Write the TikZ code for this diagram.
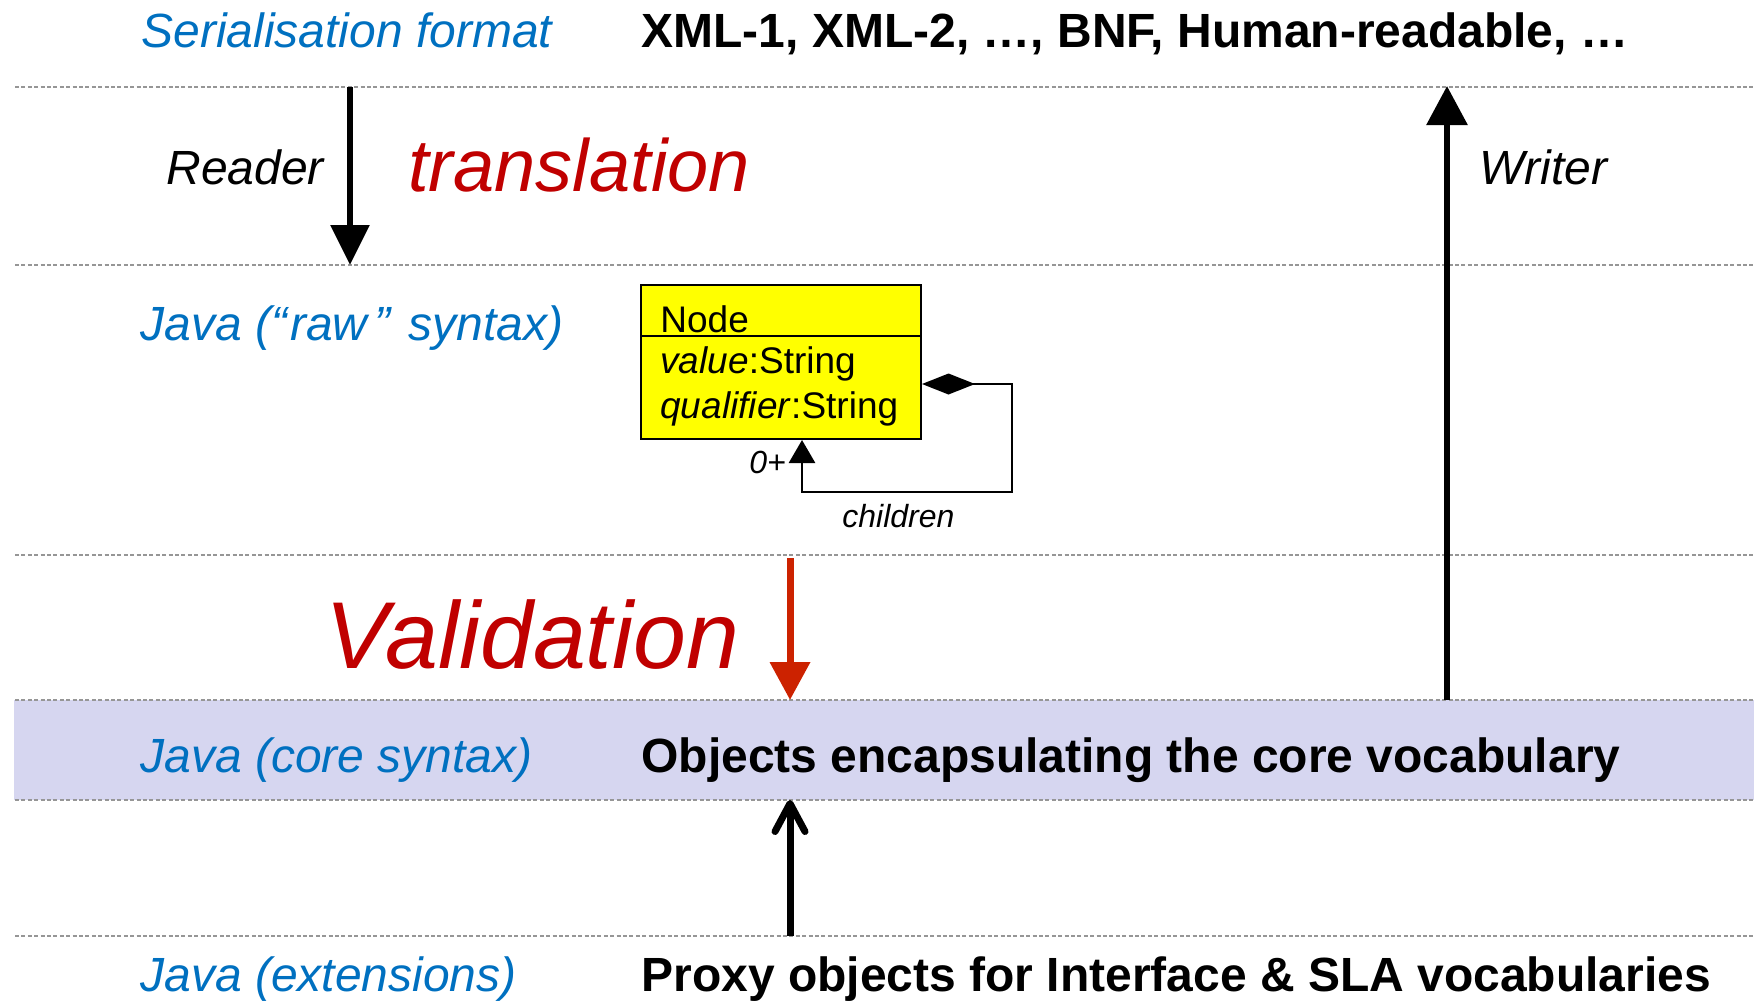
\documentclass[tikz,border=0pt]{standalone}
\usepackage{fontspec}
\setmainfont{Liberation Sans}
\usetikzlibrary{arrows.meta}
\definecolor{layerblue}{RGB}{0,112,192}
\definecolor{darkred}{RGB}{192,0,0}
\definecolor{arrowred}{RGB}{204,34,0}
\definecolor{coreband}{RGB}{214,214,240}
\definecolor{umlyellow}{RGB}{255,255,0}
\definecolor{sepgray}{RGB}{150,150,150}
\begin{document}
\begin{tikzpicture}[x=0.5pt,y=-0.5pt,
  layer/.style={anchor=base west, inner sep=0pt, text=layerblue,
    font=\fontsize{24}{28}\selectfont\itshape},
  content/.style={anchor=base west, inner sep=0pt,
    font=\fontsize{24}{28}\selectfont\bfseries},
  role/.style={anchor=base west, inner sep=0pt,
    font=\fontsize{24}{28}\selectfont\itshape},
  phase/.style={anchor=base west, inner sep=0pt, text=darkred},
  attr/.style={anchor=base west, inner sep=0pt,
    font=\fontsize{18.5}{22}\selectfont},
  small/.style={anchor=base west, inner sep=0pt,
    font=\fontsize{16}{19}\selectfont\itshape},
  sepline/.style={draw=sepgray, line width=0.7pt, dash pattern=on 2pt off 1.2pt},
  flow/.style={line width=3pt},
]
\useasboundingbox (0,0) rectangle (1754,1002);

% core-syntax band
\fill[coreband] (14,700) rectangle (1754,800);

% layer separators
\foreach \yy in {87,265,555,700,800,936}
  \draw[sepline] (15,\yy) -- (1754,\yy);

% layer names and contents
\node[layer]   (serial)  at (141,47)  {Serialisation format};
\node[content] (formats) at (641,47)  {XML-1, XML-2, …, BNF, Human-readable, …};
\node[layer]   (raw)     at (140,340) {Java (“\kern1.5pt raw\kern3.5pt”\kern2.5pt\ syntax)};
\node[layer]   (core)    at (140,772) {Java (core syntax)};
\node[content] (coreobj) at (641,772) {Objects encapsulating the core vocabulary};
\node[layer]   (ext)     at (140,991) {Java (extensions)};
\node[content] (proxy)   at (641,991) {Proxy objects for Interface \& SLA vocabularies};

% phase labels
\node[role] (reader) at (166,184)  {Reader};
\node[role] (writer) at (1479,184) {Writer};
\node[phase, font=\fontsize{37}{42}\selectfont\itshape] (transl) at (408,191) {translation};
\node[phase, font=\fontsize{47.5}{53}\selectfont\itshape] (valid) at (325,668) {Validation};

% arrow end points on the layer lines
\coordinate (readtop) at (350,87);
\coordinate (readbot) at (350,265);
\coordinate (writebot) at (1447,700);
\coordinate (writetop) at (1447,86);
\coordinate (valtop) at (790,558);
\coordinate (valbot) at (790,700);
\coordinate (exttop) at (790,936);
\coordinate (corebot) at (790,800);

\draw[flow, -{Triangle[length=20pt,width=19pt]}] (readtop) -- (readbot);
\draw[flow, -{Triangle[length=19.5pt,width=20pt]}] (writebot) -- (writetop);
\draw[line width=3.5pt, arrowred, -{Triangle[length=19pt,width=19.5pt]}] (valtop) -- (valbot);
\draw[line width=3.5pt, -{Straight Barb[length=14pt,width=15pt,round]}] (exttop) -- (corebot);

% UML class Node
\node[draw, line width=1pt, fill=umlyellow, anchor=north west, inner sep=0pt,
      minimum width=140pt, minimum height=77pt] (nodecls) at (640,284) {};
\draw[line width=1pt] (nodecls.west |- 0,336) -- (nodecls.east |- 0,336);
\node[attr] (clsname) at (660,332) {Node};
\node[attr] (attval)  at (660,373) {\textit{value}:String};
\node[attr] (attqual) at (660,418) {\textit{qualifier}:String};

% composition "children" back onto the class
\coordinate (compstart) at (922,384);
\coordinate (compcorner1) at (1012,384);
\coordinate (compcorner2) at (1012,492);
\coordinate (compcorner3) at (802,492);
\draw[line width=1.4pt,
      {Diamond[length=26.5pt,width=10.5pt]}-{Triangle[length=11.5pt,width=13pt]}]
  (compstart) -- (compcorner1) -- (compcorner2) -- (compcorner3)
  -- (compcorner3 |- nodecls.south);
\node[small] (mult) at (749,473) {0+};
\node[small] (chlabel) at (842,527) {children};
\end{tikzpicture}
\end{document}
